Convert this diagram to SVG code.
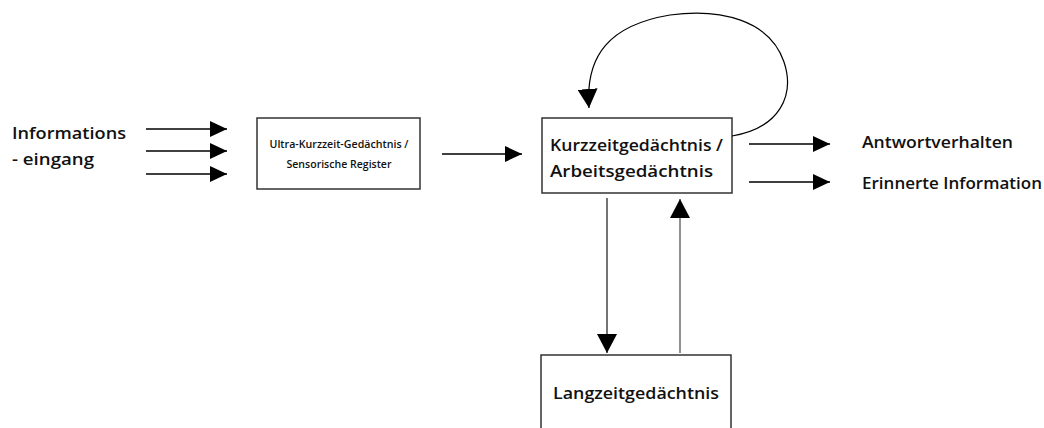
<svg xmlns="http://www.w3.org/2000/svg" width="1044" height="428" viewBox="0 0 1044 428">
<defs>
<marker id="ah" viewBox="0 0 17 16" refX="17" refY="8" markerWidth="17" markerHeight="16" markerUnits="userSpaceOnUse" orient="auto">
<path d="M0,0 L17,8 L0,16 Z" fill="#000"/>
</marker>
<marker id="ahl" viewBox="0 0 19 20" refX="19" refY="10" markerWidth="19" markerHeight="20" markerUnits="userSpaceOnUse" orient="auto">
<path d="M0,0 L19,10 L0,20 Z" fill="#000"/>
</marker>
</defs>
<style>
.box{fill:#fff;stroke:#333;stroke-width:1.5}
.t{font-family:"Open Sans","Noto Sans","Liberation Sans",sans-serif;fill:#111;font-weight:600}
.big{font-size:17px}
.small{font-size:10.5px}
.c{stroke:#000;stroke-width:1.5;fill:none;marker-end:url(#ah)}
</style>
<rect width="1044" height="428" fill="#fff"/>
<g id="input">
<text class="t big" x="12" y="139" textLength="114" lengthAdjust="spacingAndGlyphs">Informations</text>
<text class="t big" x="12" y="165" textLength="82" lengthAdjust="spacingAndGlyphs">- eingang</text>
</g>
<g id="ultra">
<rect class="box" x="257" y="118" width="163" height="71"/>
<text class="t small" x="339" y="148" text-anchor="middle" textLength="139" lengthAdjust="spacingAndGlyphs">Ultra-Kurzzeit-Gedächtnis /</text>
<text class="t small" x="339" y="168" text-anchor="middle" textLength="105" lengthAdjust="spacingAndGlyphs">Sensorische Register</text>
</g>
<g id="kzg">
<rect class="box" x="542" y="118" width="190" height="75"/>
<text class="t big" x="550" y="151" textLength="173" lengthAdjust="spacingAndGlyphs">Kurzzeitgedächtnis /</text>
<text class="t big" x="550" y="177" textLength="163" lengthAdjust="spacingAndGlyphs">Arbeitsgedächtnis</text>
</g>
<g id="lzg">
<rect class="box" x="541" y="355" width="190" height="80"/>
<text class="t big" x="553" y="399" textLength="166" lengthAdjust="spacingAndGlyphs">Langzeitgedächtnis</text>
</g>
<g id="outputs">
<text class="t big" x="862" y="148" textLength="151" lengthAdjust="spacingAndGlyphs">Antwortverhalten</text>
<text class="t big" x="862" y="189" textLength="180" lengthAdjust="spacingAndGlyphs">Erinnerte Information</text>
</g>
<g id="connectors">
<line class="c" x1="146" y1="129" x2="227" y2="129"/>
<line class="c" x1="146" y1="151" x2="227" y2="151"/>
<line class="c" x1="146" y1="174" x2="227" y2="174"/>
<line class="c" x1="442" y1="154" x2="522" y2="154"/>
<line class="c" x1="749" y1="144" x2="830" y2="144"/>
<line class="c" x1="749" y1="182" x2="830" y2="182"/>
<line class="c" style="stroke-width:1.1;marker-end:url(#ahl)" x1="607" y1="198" x2="607" y2="353"/>
<line class="c" style="stroke:#555;stroke-width:1.3;marker-end:url(#ahl)" x1="680" y1="353" x2="680" y2="199"/>
<path class="c" style="stroke-width:1.2;marker-end:url(#ahl)" d="M732,136 C780,128 795,95 784,62 C770,20 720,8 670,15 C610,25 585,55 589,108"/>
</g>
</svg>
